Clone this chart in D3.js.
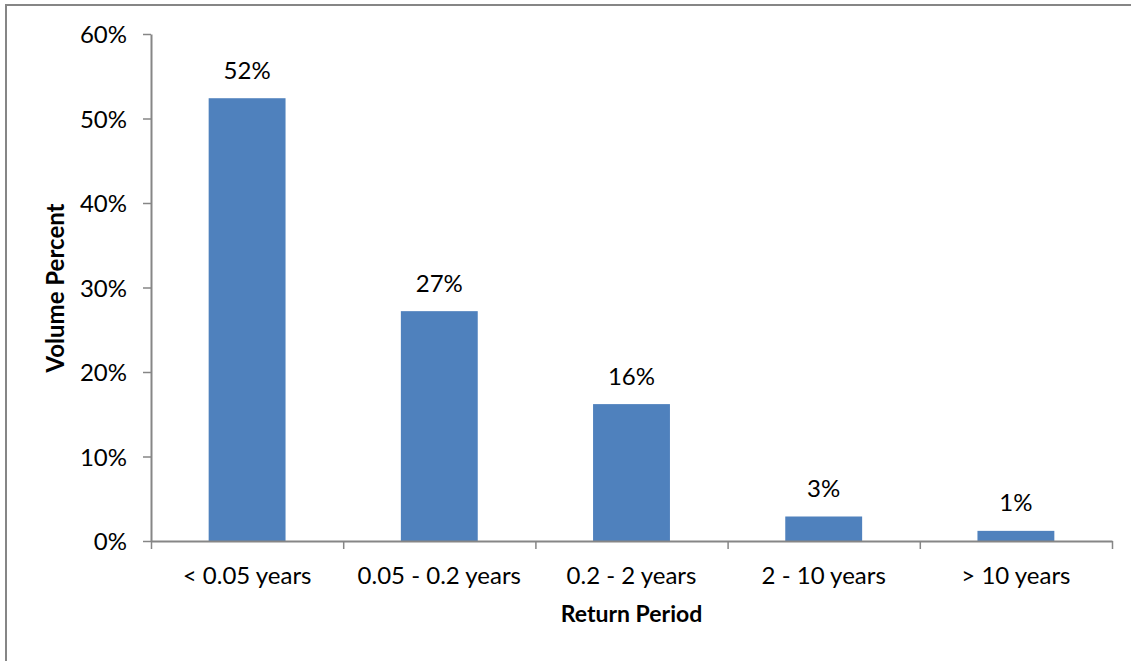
<!DOCTYPE html>
<html>
<head>
<meta charset="utf-8">
<script src="https://cdn.jsdelivr.net/npm/d3@7"></script>
<style>
  html, body { margin: 0; padding: 0; background: #fff; }
  svg { display: block; font-family: Lato, "Open Sans", sans-serif; }
</style>
</head>
<body>
<svg id="chart" width="1131" height="661"></svg>
<script>
// Share of volume by return period (percent)
const categories = ["< 0.05 years", "0.05 - 0.2 years", "0.2 - 2 years", "2 - 10 years", "> 10 years"];
const volumePercent = [52.4, 27.2, 16.2, 2.9, 1.2];
const yTickValues = [0, 10, 20, 30, 40, 50, 60];
const xTitle = "Return Period";
const yTitle = "Volume Percent";

const svg = d3.select("#chart");
const W = 1131, H = 661;
const plot = { left: 151, right: 1112, top: 34, bottom: 541 };
const axisColor = "#868686";
const barColor = "#4F81BD";
const labelSize = 24;

// Outer frame (runs off the right and bottom edges)
svg.append("rect")
  .attr("x", 6).attr("y", 5)
  .attr("width", W + 20).attr("height", H + 20)
  .attr("fill", "none").attr("stroke", axisColor).attr("stroke-width", 2);

const y = d3.scaleLinear().domain([0, 60]).range([plot.bottom, plot.top]);
const x = d3.scaleBand().domain(categories)
  .range([plot.left, plot.right])
  .paddingInner(0.6).paddingOuter(0.3);
const xEdges = d3.scaleLinear().domain([0, categories.length]).range([plot.left, plot.right]);

// Bars
svg.append("g").selectAll("rect")
  .data(categories)
  .join("rect")
  .attr("x", d => x(d))
  .attr("width", x.bandwidth())
  .attr("y", (d, i) => y(volumePercent[i]))
  .attr("height", (d, i) => y(0) - y(volumePercent[i]))
  .attr("fill", barColor);

// Value labels
svg.append("g").selectAll("text")
  .data(categories)
  .join("text")
  .attr("x", d => x(d) + x.bandwidth() / 2)
  .attr("y", (d, i) => y(volumePercent[i]) - 19.5)
  .attr("text-anchor", "middle")
  .attr("font-size", labelSize)
  .attr("fill", "#000")
  .text((d, i) => d3.format(".0f")(volumePercent[i]) + "%");

// Y axis
const yAxis = svg.append("g")
  .attr("transform", `translate(${plot.left},0)`)
  .call(d3.axisLeft(y).tickValues(yTickValues).tickSize(8).tickSizeOuter(0).tickPadding(16)
    .tickFormat(d => d + "%"));
yAxis.select(".domain").attr("stroke", axisColor).attr("stroke-width", 2);
yAxis.selectAll(".tick line").attr("stroke", axisColor).attr("stroke-width", 1.5);
yAxis.selectAll(".tick text").attr("font-size", labelSize).attr("fill", "#000")
  .attr("font-family", "Lato, 'Open Sans', sans-serif").attr("dy", "0.36em");

// X axis: boundary ticks
const xTicks = svg.append("g")
  .attr("transform", `translate(0,${plot.bottom})`)
  .call(d3.axisBottom(xEdges).tickValues(d3.range(categories.length + 1)).tickSize(8).tickSizeOuter(0).tickFormat(""));
xTicks.select(".domain").attr("stroke", axisColor).attr("stroke-width", 2);
xTicks.selectAll(".tick line").attr("stroke", axisColor).attr("stroke-width", 1.5);

// X axis: category labels
const xLabels = svg.append("g")
  .attr("transform", `translate(0,${plot.bottom})`)
  .call(d3.axisBottom(x).tickSize(0).tickPadding(0));
xLabels.select(".domain").remove();
xLabels.selectAll(".tick text")
  .attr("y", 43).attr("dy", 0)
  .attr("font-size", labelSize).attr("fill", "#000")
  .attr("font-family", "Lato, 'Open Sans', sans-serif");

// Axis titles
svg.append("text")
  .attr("x", (plot.left + plot.right) / 2)
  .attr("y", 622)
  .attr("text-anchor", "middle")
  .attr("font-size", 23).attr("font-weight", "bold")
  .text(xTitle);

svg.append("text")
  .attr("transform", `translate(64,${288}) rotate(-90)`)
  .attr("text-anchor", "middle")
  .attr("font-size", 24).attr("font-weight", "bold")
  .text(yTitle);
</script>
</body>
</html>
